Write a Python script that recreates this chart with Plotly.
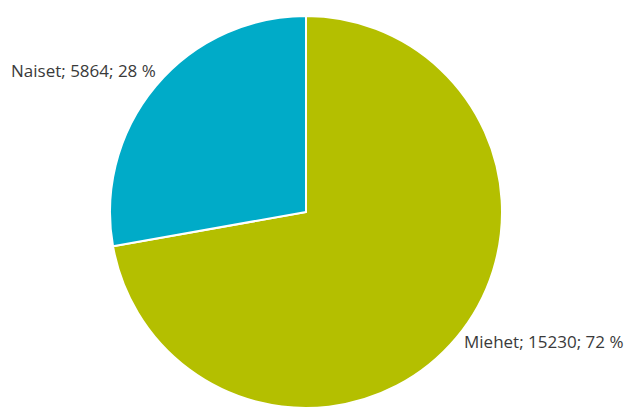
import plotly.graph_objects as go

# Gender split
labels = ["Miehet", "Naiset"]
values = [15230, 5864]
colors = ["#B4BF00", "#00ABC8"]

total = sum(values)
shares = [round(100 * v / total) for v in values]

W, H = 625, 412
cx, cy, r = 306, 212, 196

fig = go.Figure(go.Pie(
    labels=labels,
    values=values,
    sort=False,
    direction="clockwise",
    rotation=0,
    textinfo="none",
    hoverinfo="label+value+percent",
    marker=dict(colors=colors, line=dict(color="white", width=2)),
    domain=dict(x=[(cx - r) / W, (cx + r) / W],
                y=[(H - cy - r) / H, (H - cy + r) / H]),
    showlegend=False,
))

label_pos = {"Miehet": (462, 341, "left"), "Naiset": (9, 70, "left")}
for name, v, p in zip(labels, values, shares):
    x, y, anchor = label_pos[name]
    fig.add_annotation(
        x=x / W, y=1 - y / H, xref="paper", yref="paper",
        xanchor=anchor, yanchor="middle", showarrow=False,
        text=f"{name}; {v}; {p} %",
        font=dict(family="Open Sans", size=17, color="#3a3a3a"),
    )

fig.update_layout(
    width=W, height=H,
    margin=dict(l=0, r=0, t=0, b=0),
    paper_bgcolor="white", plot_bgcolor="white",
)

fig.write_html("out.html")
